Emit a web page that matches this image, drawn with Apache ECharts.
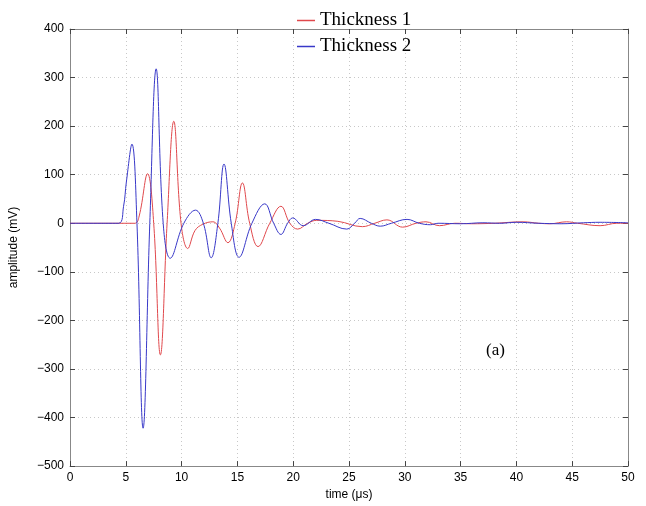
<!DOCTYPE html>
<html><head><meta charset="utf-8">
<script src="https://cdn.jsdelivr.net/npm/echarts@6/dist/echarts.min.js"></script>
<style>html,body{margin:0;padding:0;background:#fff}#c{width:646px;height:506px}</style>
</head><body><div id="c"></div>
<script>
const seriesNames = ['Thickness 1', 'Thickness 2'];
const xTicks = [0, 5, 10, 15, 20, 25, 30, 35, 40, 45, 50];
const yTicks = [-500, -400, -300, -200, -100, 0, 100, 200, 300, 400];
// [time µs, amplitude mV]
const thickness1 = [[0,0],[5.8,0],[6.2,15],[6.95,102],[7.5,0],[8.1,-271],[8.7,0],[9.3,210],[9.95,0],[10.55,-52],[11.2,-15],[11.9,-2],[12.8,3],[13.4,-10],[14.15,-40],[14.8,0],[15.45,83],[16.1,0],[16.85,-48],[17.9,0],[18.9,35],[19.7,0],[20.4,-12],[21.3,0],[22.1,6],[24,4],[26.2,-7],[27.3,0],[28.4,7],[29.8,-8],[31.0,0],[31.9,3],[33.1,-5],[34.5,0],[36,-1],[38,0],[40.6,3],[42,0],[43,-1],[44.5,3],[45.5,0],[47.5,-5],[49,0],[50,0]];
const thickness2 = [[0,0],[4.35,0],[4.8,35],[5.05,85],[5.55,163],[6.0,0],[6.55,-422],[7.15,0],[7.72,318],[8.35,0],[8.98,-72],[10.2,0],[11.25,27],[11.95,0],[12.65,-71],[13.25,0],[13.8,122],[14.45,0],[15.15,-70],[16.3,0],[17.45,40],[18.25,0],[18.9,-23],[19.5,0],[19.95,11],[20.9,-5],[22.0,8],[23.2,0],[24.8,-12],[25.5,0],[26.0,10],[27.0,0],[27.8,-6],[28.8,0],[30.2,8],[31.3,0],[32.3,-3],[33,0],[35,-1],[37,1],[38.5,0],[40,2],[42,0],[44,-1],[46,1],[47.5,2],[50,1]];

const chart = echarts.init(document.getElementById('c'));
const axisFont = {fontFamily: 'Liberation Sans, Arial', fontSize: 12, color: '#000'};
const splitLine = {show: true, lineStyle: {color: '#c8c8c8', type: [1, 3], width: 1}};
const fmt = v => v < 0 ? '\u2212' + Math.abs(v) : String(v);
chart.setOption({
  animation: false,
  grid: {left: 70, right: 18, top: 29, bottom: 39, containLabel: false},
  legend: {
    orient: 'vertical', left: 292, top: 6, itemGap: 7, itemWidth: 18, itemHeight: 1.5, icon: 'rect',
    textStyle: {fontFamily: 'Liberation Serif, Times New Roman', fontSize: 19, color: '#000'},
    data: seriesNames
  },
  xAxis: [{
    type: 'value', min: xTicks[0], max: xTicks[xTicks.length-1], interval: 5,
    name: 'time (\u03bcs)', nameLocation: 'middle', nameGap: 20, nameTextStyle: axisFont,
    axisLine: {show: true, onZero: false, lineStyle: {color: '#888', width: 1}},
    axisTick: {show: true, inside: true, length: 5, lineStyle: {color: '#444'}},
    axisLabel: Object.assign({margin: 6}, axisFont),
    splitLine: splitLine
  }, {
    type: 'value', position: 'top', min: 0, max: 50, interval: 5,
    axisLine: {show: true, onZero: false, lineStyle: {color: '#888'}},
    axisTick: {show: true, inside: true, length: 5, lineStyle: {color: '#444'}},
    axisLabel: {show: false}, splitLine: {show: false}
  }],
  yAxis: [{
    type: 'value', min: yTicks[0], max: yTicks[yTicks.length-1], interval: 100,
    name: 'amplitude (mV)', nameLocation: 'middle', nameGap: 50, nameRotate: 90, nameTextStyle: axisFont,
    axisLine: {show: true, onZero: false, lineStyle: {color: '#888', width: 1}},
    axisTick: {show: true, inside: true, length: 5, lineStyle: {color: '#444'}},
    axisLabel: Object.assign({margin: 6, formatter: fmt}, axisFont),
    splitLine: splitLine
  }, {
    type: 'value', position: 'right', min: -500, max: 400, interval: 100,
    axisLine: {show: true, onZero: false, lineStyle: {color: '#888'}},
    axisTick: {show: true, inside: true, length: 5, lineStyle: {color: '#444'}},
    axisLabel: {show: false}, splitLine: {show: false}
  }],
  series: [
    {name: seriesNames[0], type: 'line', data: thickness1, smooth: 0.4, showSymbol: false,
     lineStyle: {color: '#e0484c', width: 1}, itemStyle: {color: '#e0484c'}},
    {name: seriesNames[1], type: 'line', data: thickness2, smooth: 0.4, showSymbol: false,
     lineStyle: {color: '#3838c8', width: 1}, itemStyle: {color: '#3838c8'}}
  ],
  graphic: [{type: 'text', left: 486, top: 342, style: {text: '(a)', font: '17px "Liberation Serif", serif', fill: '#000'}}]
});
</script></body></html>
